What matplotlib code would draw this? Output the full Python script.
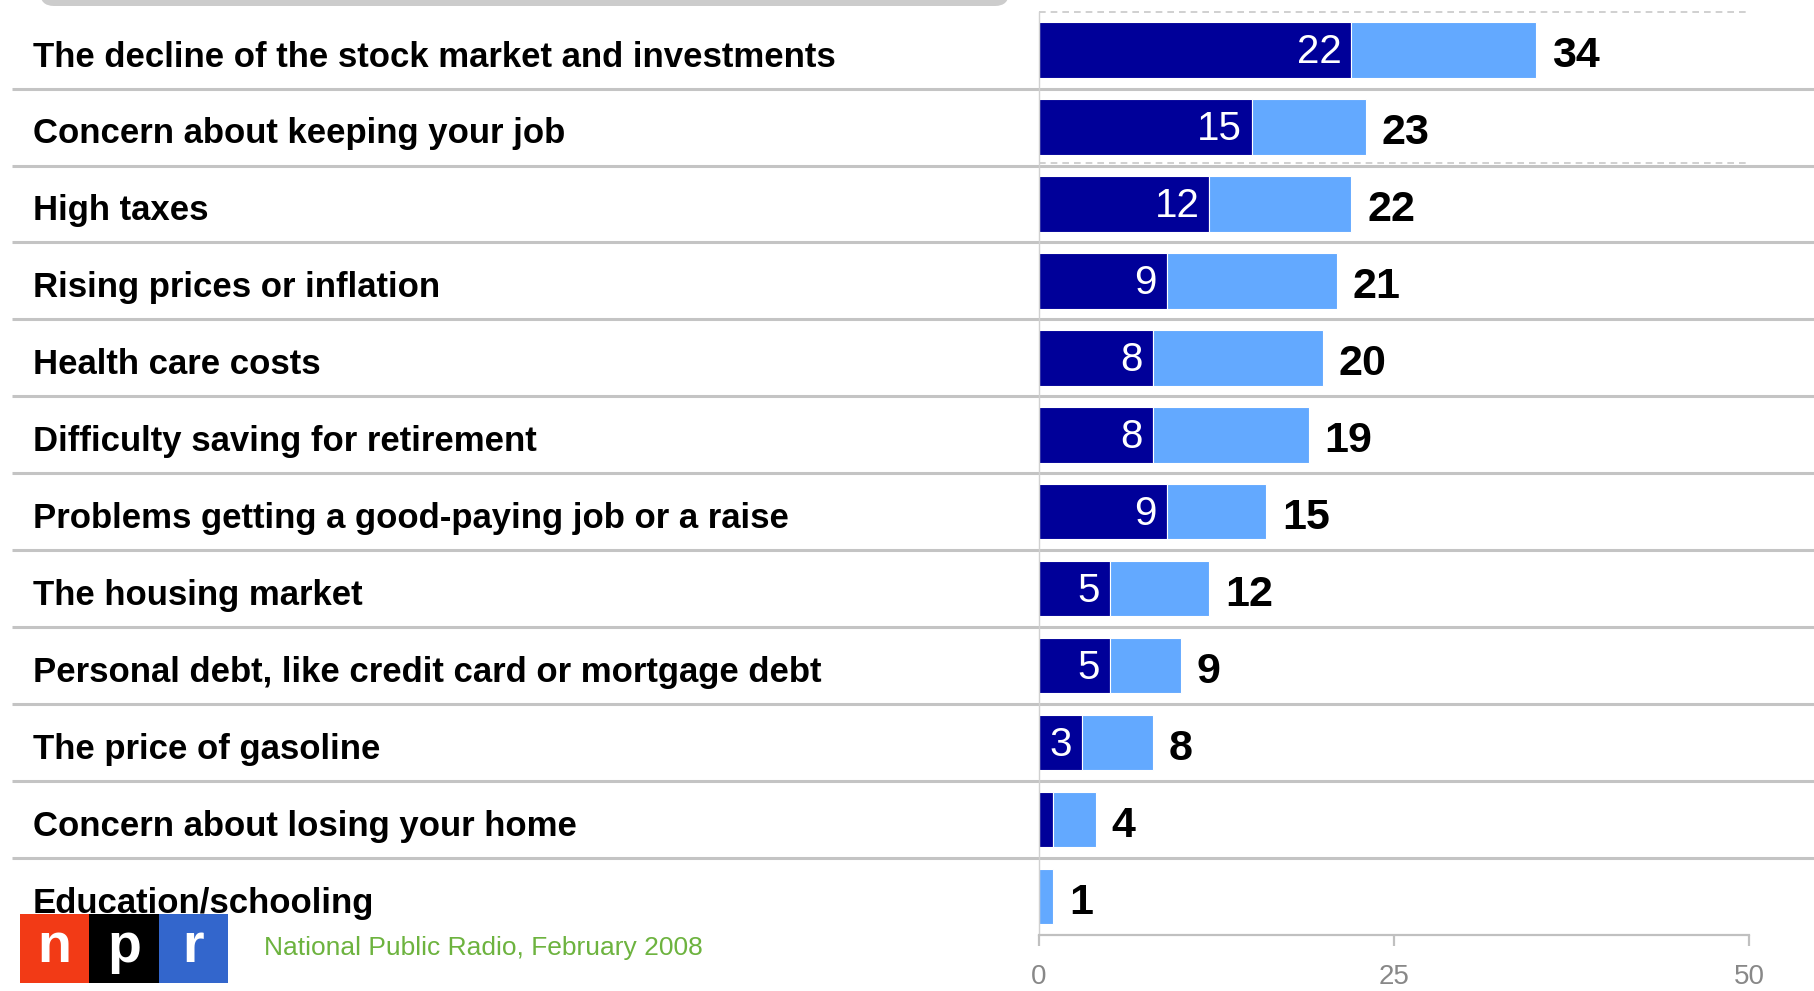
import matplotlib
matplotlib.use('Agg')
import matplotlib.pyplot as plt
from matplotlib.patches import FancyBboxPatch, Rectangle
from matplotlib.transforms import blended_transform_factory

plt.rcParams['font.family'] = ['Liberation Sans', 'DejaVu Sans']

# data
categories = [
    'The decline of the stock market and investments',
    'Concern about keeping your job',
    'High taxes',
    'Rising prices or inflation',
    'Health care costs',
    'Difficulty saving for retirement',
    'Problems getting a good-paying job or a raise',
    'The housing market',
    'Personal debt, like credit card or mortgage debt',
    'The price of gasoline',
    'Concern about losing your home',
    'Education/schooling',
]
strong = [22, 15, 12, 9, 8, 8, 9, 5, 5, 3, 1, 0]
other = [13, 8, 10, 12, 12, 11, 7, 7, 5, 5, 3, 1]
totals = [34, 23, 22, 21, 20, 19, 15, 12, 9, 8, 4, 1]
x_ticks = [0, 25, 50]
source = 'National Public Radio, February 2008'

DARK = '#000099'
LIGHT = '#63a9ff'
GRID = '#c4c4c4'

W, H = 1814, 991
fig = plt.figure(figsize=(W / 100, H / 100), dpi=100)
ax = fig.add_axes([1039 / W, 1 - 935 / H, 710 / W, (935 - 11.6) / H])

ys = list(range(len(categories)))
ax.barh(ys, strong, height=0.72, color=DARK, edgecolor='white', linewidth=0.8)
ax.barh(ys, other, left=strong, height=0.72, color=LIGHT, edgecolor='white', linewidth=0.8)

ax.set_xlim(0, 50)
ax.set_ylim(len(categories) - 0.5, -0.5)

for y, s, o, t in zip(ys, strong, other, totals):
    if s >= 3:
        ax.text(s - 0.7, y + 0.03, str(s), ha='right', va='center', color='white', fontsize=29)
    ax.text(s + o + 1.1, y + 0.08, str(t), ha='left', va='center', color='black',
            fontsize=31, fontweight='bold')

# category labels and row separators
trans = blended_transform_factory(fig.transFigure, ax.transData)
for y, name in zip(ys, categories):
    ax.text(33 / W, y + 0.09, name, transform=trans, ha='left', va='center',
            fontsize=25, fontweight='bold', color='black')
for y in ys[:-1]:
    ax.plot([12 / W, 1], [y + 0.5, y + 0.5], transform=trans, color=GRID, lw=2.2,
            clip_on=False, solid_capstyle='butt')

# dashed guide lines
ax.plot([0, 50], [-0.5, -0.5], color='#c8c8c8', lw=1.2, ls=(0, (4, 3)), clip_on=False)
ax.plot([0, 50], [1.47, 1.47], color='#c8c8c8', lw=1.2, ls=(0, (4, 3)), clip_on=False)

for side in ['top', 'right']:
    ax.spines[side].set_visible(False)
ax.spines['left'].set_color('#d0d0d0')
ax.spines['left'].set_linewidth(1)
ax.spines['bottom'].set_color('#c0c0c0')
ax.spines['bottom'].set_linewidth(1.6)
ax.set_yticks([])
ax.set_xticks(x_ticks)
ax.set_xticklabels([str(v) for v in x_ticks])
ax.tick_params(axis='x', length=8, width=1.6, color='#c0c0c0', labelcolor='#888888',
               labelsize=20, pad=13)

# header box remnant at the top
fig.patches.append(FancyBboxPatch((40, H - 6), 969, 60, boxstyle='round,pad=0,rounding_size=14',
                                  transform=None, facecolor='#cccccc', edgecolor='none'))

# npr logo
lax = fig.add_axes([20 / W, 1 - 983 / H, 208 / W, 69 / H])
lax.set_xlim(0, 3)
lax.set_ylim(0, 1)
lax.axis('off')
for i, (c, letter) in enumerate(zip(['#f23a16', '#000000', '#3366cc'], ['n', 'p', 'r'])):
    lax.add_patch(Rectangle((i, 0), 1, 1, facecolor=c, edgecolor='none'))
    lax.text(i + 0.5, 0.5, letter, ha='center', va='center', color='white',
             fontsize=40, fontweight='bold')

fig.text(264 / W, 1 - 948 / H, source, ha='left', va='center', color='#6db33f', fontsize=19)

fig.savefig('out.png', dpi=100)
